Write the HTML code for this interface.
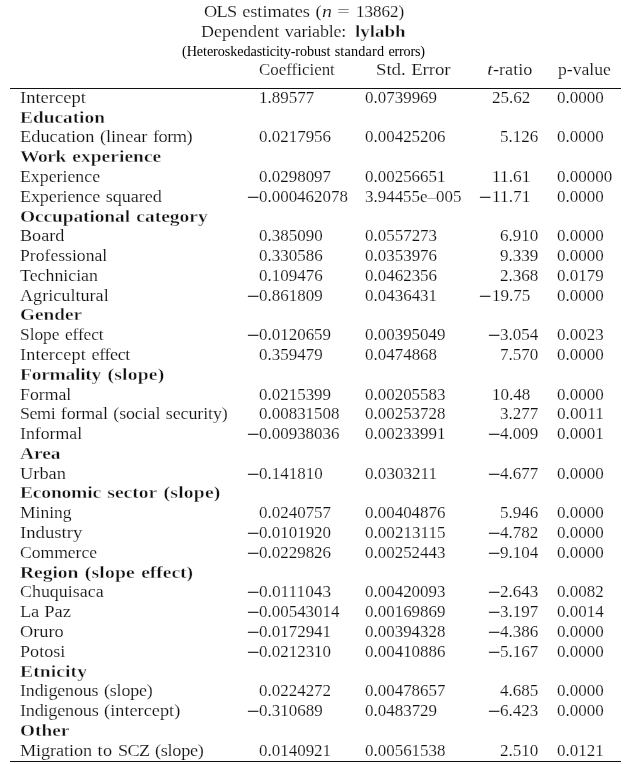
<!DOCTYPE html>
<html lang="en"><head><meta charset="utf-8">
<title>OLS estimates</title>
<style>
html,body{margin:0;padding:0;background:#fff;}
body{width:625px;height:764px;position:relative;overflow:hidden;
 font-family:"Liberation Serif",serif;color:#111;}
.t{position:absolute;white-space:pre;margin:0;padding:0;transform-origin:0 50%;-webkit-text-stroke:0.15px #fff;}
#page{position:absolute;left:0;top:0;width:625px;height:764px;will-change:transform;}
.b{font-weight:bold;color:#111;-webkit-text-stroke:0.36px #fff;}
.i{font-style:italic;}
.s{color:#000;-webkit-text-stroke:0;}
.w{display:inline-block;}
.m{text-align:center;}
.m>span{display:inline-block;color:#000;-webkit-text-stroke:0;transform:translate(0.5px,0.4px) scale(1.36,1.25);}
.rule{position:absolute;left:10.2px;width:610.6px;height:1px;background:#111;}
</style></head><body><div id="page">
<div class="rule" style="top:88px"></div>
<div class="rule" style="top:761px"></div>
<div class="t" style="left:19.80px;top:87px;font-size:17.5px;line-height:20px;height:20px;transform:scaleX(1.0600);">Intercept</div>
<div class="t" style="left:259.30px;top:88px;font-size:16.7px;line-height:19px;height:19px;transform:scaleX(1.0184);">1.89577</div>
<div class="t" style="left:365.40px;top:88px;font-size:16.7px;line-height:19px;height:19px;transform:scaleX(1.0163);">0.0739969</div>
<div class="t" style="left:491.65px;top:88px;font-size:16.7px;line-height:19px;height:19px;transform:scaleX(1.0222);">25.62</div>
<div class="t" style="left:556.50px;top:88px;font-size:16.7px;line-height:19px;height:19px;transform:scaleX(1.0199);">0.0000</div>
<div class="t b" style="left:20.20px;top:107px;font-size:17.5px;line-height:20px;height:20px;transform:scaleX(1.1051);">Education</div>
<div class="t" style="left:19.80px;top:126px;font-size:17.5px;line-height:20px;height:20px;word-spacing:0.930px;transform:scaleX(1.0493);"><span class="w" style="width:70.96px;letter-spacing:0.001px">Education</span> <span class="w" style="width:45.14px;letter-spacing:-0.076px">(linear</span> <span class="w" style="width:38.51px;letter-spacing:-0.518px">form)</span></div>
<div class="t" style="left:259.30px;top:127px;font-size:16.7px;line-height:19px;height:19px;transform:scaleX(1.0163);">0.0217956</div>
<div class="t" style="left:365.40px;top:127px;font-size:16.7px;line-height:19px;height:19px;transform:scaleX(1.0156);">0.00425206</div>
<div class="t" style="left:500.07px;top:127px;font-size:16.7px;line-height:19px;height:19px;transform:scaleX(1.0222);">5.126</div>
<div class="t" style="left:556.50px;top:127px;font-size:16.7px;line-height:19px;height:19px;transform:scaleX(1.0199);">0.0000</div>
<div class="t b" style="left:20.20px;top:146px;font-size:17.5px;line-height:20px;height:20px;word-spacing:1.371px;transform:scaleX(1.1140);"><span class="w" style="width:41.21px;letter-spacing:-0.398px">Work</span> <span class="w" style="width:79.89px;letter-spacing:0.020px">experience</span></div>
<div class="t" style="left:19.80px;top:166px;font-size:17.5px;line-height:20px;height:20px;transform:scaleX(1.0173);">Experience</div>
<div class="t" style="left:259.30px;top:167px;font-size:16.7px;line-height:19px;height:19px;transform:scaleX(1.0163);">0.0298097</div>
<div class="t" style="left:365.40px;top:167px;font-size:16.7px;line-height:19px;height:19px;transform:scaleX(1.0156);">0.00256651</div>
<div class="t" style="left:491.65px;top:167px;font-size:16.7px;line-height:19px;height:19px;transform:scaleX(1.0391);">11.61</div>
<div class="t" style="left:556.50px;top:167px;font-size:16.7px;line-height:19px;height:19px;transform:scaleX(1.0184);">0.00000</div>
<div class="t" style="left:19.80px;top:186px;font-size:17.5px;line-height:20px;height:20px;word-spacing:1.018px;transform:scaleX(1.0320);"><span class="w" style="width:77.58px;letter-spacing:-0.112px">Experience</span> <span class="w" style="width:54.52px;letter-spacing:0.012px">squared</span></div>
<div class="t m" style="left:246.19px;top:187px;font-size:16.7px;line-height:19px;height:19px;width:13.11px;"><span>−</span></div>
<div class="t" style="left:259.30px;top:187px;font-size:16.7px;line-height:19px;height:19px;transform:scaleX(1.0151);">0.000462078</div>
<div class="t" style="left:365.40px;top:187px;font-size:16.7px;line-height:19px;height:19px;transform:scaleX(1.0146);">3.94455e–005</div>
<div class="t m" style="left:478.54px;top:187px;font-size:16.7px;line-height:19px;height:19px;width:13.11px;"><span>−</span></div>
<div class="t" style="left:491.65px;top:187px;font-size:16.7px;line-height:19px;height:19px;transform:scaleX(1.0391);">11.71</div>
<div class="t" style="left:556.50px;top:187px;font-size:16.7px;line-height:19px;height:19px;transform:scaleX(1.0199);">0.0000</div>
<div class="t b" style="left:20.20px;top:206px;font-size:17.5px;line-height:20px;height:20px;word-spacing:1.376px;transform:scaleX(1.1130);"><span class="w" style="width:98.76px;letter-spacing:-0.116px">Occupational</span> <span class="w" style="width:64.14px;letter-spacing:0.001px">category</span></div>
<div class="t" style="left:19.80px;top:225px;font-size:17.5px;line-height:20px;height:20px;transform:scaleX(1.0366);">Board</div>
<div class="t" style="left:259.30px;top:226px;font-size:16.7px;line-height:19px;height:19px;transform:scaleX(1.0172);">0.385090</div>
<div class="t" style="left:365.40px;top:226px;font-size:16.7px;line-height:19px;height:19px;transform:scaleX(1.0163);">0.0557273</div>
<div class="t" style="left:500.07px;top:226px;font-size:16.7px;line-height:19px;height:19px;transform:scaleX(1.0222);">6.910</div>
<div class="t" style="left:556.50px;top:226px;font-size:16.7px;line-height:19px;height:19px;transform:scaleX(1.0199);">0.0000</div>
<div class="t" style="left:19.80px;top:245px;font-size:17.5px;line-height:20px;height:20px;transform:scaleX(1.0079);">Professional</div>
<div class="t" style="left:259.30px;top:246px;font-size:16.7px;line-height:19px;height:19px;transform:scaleX(1.0172);">0.330586</div>
<div class="t" style="left:365.40px;top:246px;font-size:16.7px;line-height:19px;height:19px;transform:scaleX(1.0163);">0.0353976</div>
<div class="t" style="left:500.07px;top:246px;font-size:16.7px;line-height:19px;height:19px;transform:scaleX(1.0222);">9.339</div>
<div class="t" style="left:556.50px;top:246px;font-size:16.7px;line-height:19px;height:19px;transform:scaleX(1.0199);">0.0000</div>
<div class="t" style="left:19.80px;top:265px;font-size:17.5px;line-height:20px;height:20px;transform:scaleX(1.0185);">Technician</div>
<div class="t" style="left:259.30px;top:266px;font-size:16.7px;line-height:19px;height:19px;transform:scaleX(1.0172);">0.109476</div>
<div class="t" style="left:365.40px;top:266px;font-size:16.7px;line-height:19px;height:19px;transform:scaleX(1.0163);">0.0462356</div>
<div class="t" style="left:500.07px;top:266px;font-size:16.7px;line-height:19px;height:19px;transform:scaleX(1.0222);">2.368</div>
<div class="t" style="left:556.50px;top:266px;font-size:16.7px;line-height:19px;height:19px;transform:scaleX(1.0199);">0.0179</div>
<div class="t" style="left:19.80px;top:285px;font-size:17.5px;line-height:20px;height:20px;transform:scaleX(1.0370);">Agricultural</div>
<div class="t m" style="left:246.19px;top:286px;font-size:16.7px;line-height:19px;height:19px;width:13.11px;"><span>−</span></div>
<div class="t" style="left:259.30px;top:286px;font-size:16.7px;line-height:19px;height:19px;transform:scaleX(1.0172);">0.861809</div>
<div class="t" style="left:365.40px;top:286px;font-size:16.7px;line-height:19px;height:19px;transform:scaleX(1.0163);">0.0436431</div>
<div class="t m" style="left:478.54px;top:286px;font-size:16.7px;line-height:19px;height:19px;width:13.11px;"><span>−</span></div>
<div class="t" style="left:491.65px;top:286px;font-size:16.7px;line-height:19px;height:19px;transform:scaleX(1.0222);">19.75</div>
<div class="t" style="left:556.50px;top:286px;font-size:16.7px;line-height:19px;height:19px;transform:scaleX(1.0199);">0.0000</div>
<div class="t b" style="left:20.20px;top:304px;font-size:17.5px;line-height:20px;height:20px;transform:scaleX(1.0987);">Gender</div>
<div class="t" style="left:19.80px;top:324px;font-size:17.5px;line-height:20px;height:20px;word-spacing:1.208px;transform:scaleX(0.9970);"><span class="w" style="width:39.55px;letter-spacing:-0.065px">Slope</span> <span class="w" style="width:38.62px;letter-spacing:-0.150px">effect</span></div>
<div class="t m" style="left:246.19px;top:325px;font-size:16.7px;line-height:19px;height:19px;width:13.11px;"><span>−</span></div>
<div class="t" style="left:259.30px;top:325px;font-size:16.7px;line-height:19px;height:19px;transform:scaleX(1.0163);">0.0120659</div>
<div class="t" style="left:365.40px;top:325px;font-size:16.7px;line-height:19px;height:19px;transform:scaleX(1.0156);">0.00395049</div>
<div class="t m" style="left:486.97px;top:325px;font-size:16.7px;line-height:19px;height:19px;width:13.11px;"><span>−</span></div>
<div class="t" style="left:500.07px;top:325px;font-size:16.7px;line-height:19px;height:19px;transform:scaleX(1.0222);">3.054</div>
<div class="t" style="left:556.50px;top:325px;font-size:16.7px;line-height:19px;height:19px;transform:scaleX(1.0199);">0.0023</div>
<div class="t" style="left:19.80px;top:344px;font-size:17.5px;line-height:20px;height:20px;word-spacing:0.993px;transform:scaleX(1.0370);"><span class="w" style="width:63.57px;letter-spacing:0.153px">Intercept</span> <span class="w" style="width:37.13px;letter-spacing:-0.398px">effect</span></div>
<div class="t" style="left:259.30px;top:345px;font-size:16.7px;line-height:19px;height:19px;transform:scaleX(1.0172);">0.359479</div>
<div class="t" style="left:365.40px;top:345px;font-size:16.7px;line-height:19px;height:19px;transform:scaleX(1.0163);">0.0474868</div>
<div class="t" style="left:500.07px;top:345px;font-size:16.7px;line-height:19px;height:19px;transform:scaleX(1.0222);">7.570</div>
<div class="t" style="left:556.50px;top:345px;font-size:16.7px;line-height:19px;height:19px;transform:scaleX(1.0199);">0.0000</div>
<div class="t b" style="left:20.20px;top:364px;font-size:17.5px;line-height:20px;height:20px;word-spacing:1.340px;transform:scaleX(1.1200);"><span class="w" style="width:72.39px;letter-spacing:-0.273px">Formality</span> <span class="w" style="width:51.30px;letter-spacing:0.182px">(slope)</span></div>
<div class="t" style="left:19.80px;top:384px;font-size:17.5px;line-height:20px;height:20px;transform:scaleX(1.0147);">Formal</div>
<div class="t" style="left:259.30px;top:385px;font-size:16.7px;line-height:19px;height:19px;transform:scaleX(1.0163);">0.0215399</div>
<div class="t" style="left:365.40px;top:385px;font-size:16.7px;line-height:19px;height:19px;transform:scaleX(1.0156);">0.00205583</div>
<div class="t" style="left:491.65px;top:385px;font-size:16.7px;line-height:19px;height:19px;transform:scaleX(1.0222);">10.48</div>
<div class="t" style="left:556.50px;top:385px;font-size:16.7px;line-height:19px;height:19px;transform:scaleX(1.0199);">0.0000</div>
<div class="t" style="left:19.80px;top:403px;font-size:17.5px;line-height:20px;height:20px;word-spacing:1.047px;transform:scaleX(1.0265);"><span class="w" style="width:34.34px;letter-spacing:-0.410px">Semi</span> <span class="w" style="width:45.69px;letter-spacing:-0.161px">formal</span> <span class="w" style="width:45.73px;letter-spacing:-0.132px">(social</span> <span class="w" style="width:61.59px;letter-spacing:-0.101px">security)</span></div>
<div class="t" style="left:259.30px;top:404px;font-size:16.7px;line-height:19px;height:19px;transform:scaleX(1.0156);">0.00831508</div>
<div class="t" style="left:365.40px;top:404px;font-size:16.7px;line-height:19px;height:19px;transform:scaleX(1.0156);">0.00253728</div>
<div class="t" style="left:500.07px;top:404px;font-size:16.7px;line-height:19px;height:19px;transform:scaleX(1.0222);">3.277</div>
<div class="t" style="left:556.50px;top:404px;font-size:16.7px;line-height:19px;height:19px;transform:scaleX(1.0337);">0.0011</div>
<div class="t" style="left:19.80px;top:423px;font-size:17.5px;line-height:20px;height:20px;transform:scaleX(1.0159);">Informal</div>
<div class="t m" style="left:246.19px;top:424px;font-size:16.7px;line-height:19px;height:19px;width:13.11px;"><span>−</span></div>
<div class="t" style="left:259.30px;top:424px;font-size:16.7px;line-height:19px;height:19px;transform:scaleX(1.0156);">0.00938036</div>
<div class="t" style="left:365.40px;top:424px;font-size:16.7px;line-height:19px;height:19px;transform:scaleX(1.0156);">0.00233991</div>
<div class="t m" style="left:486.97px;top:424px;font-size:16.7px;line-height:19px;height:19px;width:13.11px;"><span>−</span></div>
<div class="t" style="left:500.07px;top:424px;font-size:16.7px;line-height:19px;height:19px;transform:scaleX(1.0222);">4.009</div>
<div class="t" style="left:556.50px;top:424px;font-size:16.7px;line-height:19px;height:19px;transform:scaleX(1.0199);">0.0001</div>
<div class="t b" style="left:20.20px;top:443px;font-size:17.5px;line-height:20px;height:20px;transform:scaleX(1.1081);">Area</div>
<div class="t" style="left:19.80px;top:463px;font-size:17.5px;line-height:20px;height:20px;transform:scaleX(1.0512);">Urban</div>
<div class="t m" style="left:246.19px;top:464px;font-size:16.7px;line-height:19px;height:19px;width:13.11px;"><span>−</span></div>
<div class="t" style="left:259.30px;top:464px;font-size:16.7px;line-height:19px;height:19px;transform:scaleX(1.0172);">0.141810</div>
<div class="t" style="left:365.40px;top:464px;font-size:16.7px;line-height:19px;height:19px;transform:scaleX(1.0252);">0.0303211</div>
<div class="t m" style="left:486.97px;top:464px;font-size:16.7px;line-height:19px;height:19px;width:13.11px;"><span>−</span></div>
<div class="t" style="left:500.07px;top:464px;font-size:16.7px;line-height:19px;height:19px;transform:scaleX(1.0222);">4.677</div>
<div class="t" style="left:556.50px;top:464px;font-size:16.7px;line-height:19px;height:19px;transform:scaleX(1.0199);">0.0000</div>
<div class="t b" style="left:20.20px;top:482px;font-size:17.5px;line-height:20px;height:20px;word-spacing:1.340px;transform:scaleX(1.1200);"><span class="w" style="width:72.23px;letter-spacing:-0.207px">Economic</span> <span class="w" style="width:44.55px;letter-spacing:-0.026px">sector</span> <span class="w" style="width:51.30px;letter-spacing:0.182px">(slope)</span></div>
<div class="t" style="left:19.80px;top:502px;font-size:17.5px;line-height:20px;height:20px;transform:scaleX(0.9990);">Mining</div>
<div class="t" style="left:259.30px;top:503px;font-size:16.7px;line-height:19px;height:19px;transform:scaleX(1.0163);">0.0240757</div>
<div class="t" style="left:365.40px;top:503px;font-size:16.7px;line-height:19px;height:19px;transform:scaleX(1.0156);">0.00404876</div>
<div class="t" style="left:500.07px;top:503px;font-size:16.7px;line-height:19px;height:19px;transform:scaleX(1.0222);">5.946</div>
<div class="t" style="left:556.50px;top:503px;font-size:16.7px;line-height:19px;height:19px;transform:scaleX(1.0199);">0.0000</div>
<div class="t" style="left:19.80px;top:522px;font-size:17.5px;line-height:20px;height:20px;transform:scaleX(1.0681);">Industry</div>
<div class="t m" style="left:246.19px;top:523px;font-size:16.7px;line-height:19px;height:19px;width:13.11px;"><span>−</span></div>
<div class="t" style="left:259.30px;top:523px;font-size:16.7px;line-height:19px;height:19px;transform:scaleX(1.0163);">0.0101920</div>
<div class="t" style="left:365.40px;top:523px;font-size:16.7px;line-height:19px;height:19px;transform:scaleX(1.0235);">0.00213115</div>
<div class="t m" style="left:486.97px;top:523px;font-size:16.7px;line-height:19px;height:19px;width:13.11px;"><span>−</span></div>
<div class="t" style="left:500.07px;top:523px;font-size:16.7px;line-height:19px;height:19px;transform:scaleX(1.0222);">4.782</div>
<div class="t" style="left:556.50px;top:523px;font-size:16.7px;line-height:19px;height:19px;transform:scaleX(1.0199);">0.0000</div>
<div class="t" style="left:19.80px;top:542px;font-size:17.5px;line-height:20px;height:20px;transform:scaleX(1.0035);">Commerce</div>
<div class="t m" style="left:246.19px;top:543px;font-size:16.7px;line-height:19px;height:19px;width:13.11px;"><span>−</span></div>
<div class="t" style="left:259.30px;top:543px;font-size:16.7px;line-height:19px;height:19px;transform:scaleX(1.0163);">0.0229826</div>
<div class="t" style="left:365.40px;top:543px;font-size:16.7px;line-height:19px;height:19px;transform:scaleX(1.0156);">0.00252443</div>
<div class="t m" style="left:486.97px;top:543px;font-size:16.7px;line-height:19px;height:19px;width:13.11px;"><span>−</span></div>
<div class="t" style="left:500.07px;top:543px;font-size:16.7px;line-height:19px;height:19px;transform:scaleX(1.0222);">9.104</div>
<div class="t" style="left:556.50px;top:543px;font-size:16.7px;line-height:19px;height:19px;transform:scaleX(1.0199);">0.0000</div>
<div class="t b" style="left:20.20px;top:562px;font-size:17.5px;line-height:20px;height:20px;word-spacing:1.340px;transform:scaleX(1.1200);"><span class="w" style="width:52.16px;letter-spacing:-0.057px">Region</span> <span class="w" style="width:44.63px;letter-spacing:0.147px">(slope</span> <span class="w" style="width:46.68px;letter-spacing:-0.056px">effect)</span></div>
<div class="t" style="left:19.80px;top:581px;font-size:17.5px;line-height:20px;height:20px;transform:scaleX(1.0237);">Chuquisaca</div>
<div class="t m" style="left:246.19px;top:582px;font-size:16.7px;line-height:19px;height:19px;width:13.11px;"><span>−</span></div>
<div class="t" style="left:259.30px;top:582px;font-size:16.7px;line-height:19px;height:19px;transform:scaleX(1.0343);">0.0111043</div>
<div class="t" style="left:365.40px;top:582px;font-size:16.7px;line-height:19px;height:19px;transform:scaleX(1.0156);">0.00420093</div>
<div class="t m" style="left:486.97px;top:582px;font-size:16.7px;line-height:19px;height:19px;width:13.11px;"><span>−</span></div>
<div class="t" style="left:500.07px;top:582px;font-size:16.7px;line-height:19px;height:19px;transform:scaleX(1.0222);">2.643</div>
<div class="t" style="left:556.50px;top:582px;font-size:16.7px;line-height:19px;height:19px;transform:scaleX(1.0199);">0.0082</div>
<div class="t" style="left:19.80px;top:601px;font-size:17.5px;line-height:20px;height:20px;word-spacing:0.873px;transform:scaleX(1.0606);"><span class="w" style="width:17.71px;letter-spacing:-0.378px">La</span> <span class="w" style="width:25.15px;letter-spacing:-0.044px">Paz</span></div>
<div class="t m" style="left:246.19px;top:602px;font-size:16.7px;line-height:19px;height:19px;width:13.11px;"><span>−</span></div>
<div class="t" style="left:259.30px;top:602px;font-size:16.7px;line-height:19px;height:19px;transform:scaleX(1.0156);">0.00543014</div>
<div class="t" style="left:365.40px;top:602px;font-size:16.7px;line-height:19px;height:19px;transform:scaleX(1.0156);">0.00169869</div>
<div class="t m" style="left:486.97px;top:602px;font-size:16.7px;line-height:19px;height:19px;width:13.11px;"><span>−</span></div>
<div class="t" style="left:500.07px;top:602px;font-size:16.7px;line-height:19px;height:19px;transform:scaleX(1.0222);">3.197</div>
<div class="t" style="left:556.50px;top:602px;font-size:16.7px;line-height:19px;height:19px;transform:scaleX(1.0199);">0.0014</div>
<div class="t" style="left:19.80px;top:621px;font-size:17.5px;line-height:20px;height:20px;transform:scaleX(1.0455);">Oruro</div>
<div class="t m" style="left:246.19px;top:622px;font-size:16.7px;line-height:19px;height:19px;width:13.11px;"><span>−</span></div>
<div class="t" style="left:259.30px;top:622px;font-size:16.7px;line-height:19px;height:19px;transform:scaleX(1.0163);">0.0172941</div>
<div class="t" style="left:365.40px;top:622px;font-size:16.7px;line-height:19px;height:19px;transform:scaleX(1.0156);">0.00394328</div>
<div class="t m" style="left:486.97px;top:622px;font-size:16.7px;line-height:19px;height:19px;width:13.11px;"><span>−</span></div>
<div class="t" style="left:500.07px;top:622px;font-size:16.7px;line-height:19px;height:19px;transform:scaleX(1.0222);">4.386</div>
<div class="t" style="left:556.50px;top:622px;font-size:16.7px;line-height:19px;height:19px;transform:scaleX(1.0199);">0.0000</div>
<div class="t" style="left:19.80px;top:641px;font-size:17.5px;line-height:20px;height:20px;transform:scaleX(1.0352);">Potosi</div>
<div class="t m" style="left:246.19px;top:642px;font-size:16.7px;line-height:19px;height:19px;width:13.11px;"><span>−</span></div>
<div class="t" style="left:259.30px;top:642px;font-size:16.7px;line-height:19px;height:19px;transform:scaleX(1.0163);">0.0212310</div>
<div class="t" style="left:365.40px;top:642px;font-size:16.7px;line-height:19px;height:19px;transform:scaleX(1.0156);">0.00410886</div>
<div class="t m" style="left:486.97px;top:642px;font-size:16.7px;line-height:19px;height:19px;width:13.11px;"><span>−</span></div>
<div class="t" style="left:500.07px;top:642px;font-size:16.7px;line-height:19px;height:19px;transform:scaleX(1.0222);">5.167</div>
<div class="t" style="left:556.50px;top:642px;font-size:16.7px;line-height:19px;height:19px;transform:scaleX(1.0199);">0.0000</div>
<div class="t b" style="left:20.20px;top:661px;font-size:17.5px;line-height:20px;height:20px;letter-spacing:0.067px;transform:scaleX(1.1200);">Etnicity</div>
<div class="t" style="left:19.80px;top:680px;font-size:17.5px;line-height:20px;height:20px;word-spacing:1.065px;transform:scaleX(1.0232);"><span class="w" style="width:76.71px;letter-spacing:-0.107px">Indigenous</span> <span class="w" style="width:48.60px;letter-spacing:-0.183px">(slope)</span></div>
<div class="t" style="left:259.30px;top:681px;font-size:16.7px;line-height:19px;height:19px;transform:scaleX(1.0163);">0.0224272</div>
<div class="t" style="left:365.40px;top:681px;font-size:16.7px;line-height:19px;height:19px;transform:scaleX(1.0156);">0.00478657</div>
<div class="t" style="left:500.07px;top:681px;font-size:16.7px;line-height:19px;height:19px;transform:scaleX(1.0222);">4.685</div>
<div class="t" style="left:556.50px;top:681px;font-size:16.7px;line-height:19px;height:19px;transform:scaleX(1.0199);">0.0000</div>
<div class="t" style="left:19.80px;top:700px;font-size:17.5px;line-height:20px;height:20px;word-spacing:0.965px;transform:scaleX(1.0423);"><span class="w" style="width:75.31px;letter-spacing:-0.248px">Indigenous</span> <span class="w" style="width:74.37px;letter-spacing:0.023px">(intercept)</span></div>
<div class="t m" style="left:246.19px;top:701px;font-size:16.7px;line-height:19px;height:19px;width:13.11px;"><span>−</span></div>
<div class="t" style="left:259.30px;top:701px;font-size:16.7px;line-height:19px;height:19px;transform:scaleX(1.0172);">0.310689</div>
<div class="t" style="left:365.40px;top:701px;font-size:16.7px;line-height:19px;height:19px;transform:scaleX(1.0163);">0.0483729</div>
<div class="t m" style="left:486.97px;top:701px;font-size:16.7px;line-height:19px;height:19px;width:13.11px;"><span>−</span></div>
<div class="t" style="left:500.07px;top:701px;font-size:16.7px;line-height:19px;height:19px;transform:scaleX(1.0222);">6.423</div>
<div class="t" style="left:556.50px;top:701px;font-size:16.7px;line-height:19px;height:19px;transform:scaleX(1.0199);">0.0000</div>
<div class="t b" style="left:20.20px;top:720px;font-size:17.5px;line-height:20px;height:20px;transform:scaleX(1.1019);">Other</div>
<div class="t" style="left:19.80px;top:740px;font-size:17.5px;line-height:20px;height:20px;word-spacing:0.970px;transform:scaleX(1.0414);"><span class="w" style="width:69.09px;letter-spacing:-0.101px">Migration</span> <span class="w" style="width:14.25px;letter-spacing:0.315px">to</span> <span class="w" style="width:30.29px;letter-spacing:-0.606px">SCZ</span> <span class="w" style="width:47.75px;letter-spacing:-0.301px">(slope)</span></div>
<div class="t" style="left:259.30px;top:741px;font-size:16.7px;line-height:19px;height:19px;transform:scaleX(1.0163);">0.0140921</div>
<div class="t" style="left:365.40px;top:741px;font-size:16.7px;line-height:19px;height:19px;transform:scaleX(1.0156);">0.00561538</div>
<div class="t" style="left:500.07px;top:741px;font-size:16.7px;line-height:19px;height:19px;transform:scaleX(1.0222);">2.510</div>
<div class="t" style="left:556.50px;top:741px;font-size:16.7px;line-height:19px;height:19px;transform:scaleX(1.0199);">0.0121</div>
<div class="t" style="left:259.20px;top:59px;font-size:17.5px;line-height:20px;height:20px;transform:scaleX(0.9668);">Coefficient</div>
<div class="t" style="left:375.60px;top:59px;font-size:17.5px;line-height:20px;height:20px;word-spacing:0.776px;transform:scaleX(1.0778);"><span class="w" style="width:27.48px;letter-spacing:-0.065px">Std.</span> <span class="w" style="width:36.40px;letter-spacing:-0.107px">Error</span></div>
<div class="t i" style="left:486.60px;top:59px;font-size:17.5px;line-height:20px;height:20px;transform:scaleX(1.2370);">t</div>
<div class="t" style="left:492.63px;top:59px;font-size:17.5px;line-height:20px;height:20px;transform:scaleX(1.0386);">-ratio</div>
<div class="t" style="left:557.90px;top:59px;font-size:17.5px;line-height:20px;height:20px;transform:scaleX(1.0079);">p-value</div>
<div class="t" style="left:204.00px;top:1px;font-size:17.5px;line-height:20px;height:20px;word-spacing:0.933px;transform:scaleX(1.0464);"><span class="w" style="width:31.19px;letter-spacing:-0.624px">OLS</span> <span class="w" style="width:64.76px;letter-spacing:-0.040px">estimates</span> <span class="w" style="width:6.19px;letter-spacing:0.366px">(</span></div>
<div class="t i" style="left:322.00px;top:1px;font-size:17.5px;line-height:20px;height:20px;transform:scaleX(1.1455);">n</div>
<div class="t" style="left:337.30px;top:1px;font-size:17.5px;line-height:20px;height:20px;transform:scaleX(1.3154);">=</div>
<div class="t" style="left:355.90px;top:1px;font-size:17.5px;line-height:20px;height:20px;transform:scaleX(0.9742);">13862)</div>
<div class="t" style="left:201.40px;top:21px;font-size:17.5px;line-height:20px;height:20px;word-spacing:1.018px;transform:scaleX(1.0268);"><span class="w" style="width:76.19px;letter-spacing:0.042px">Dependent</span> <span class="w" style="width:59.83px;letter-spacing:-0.155px">variable:</span></div>
<div class="t b" style="left:355.40px;top:21px;font-size:17.5px;line-height:20px;height:20px;transform:scaleX(1.0834);">lylabh</div>
<div class="t s" style="left:182.00px;top:44px;font-size:14.0px;line-height:15px;height:15px;word-spacing:0.736px;transform:scaleX(1.0156);"><span class="w" style="width:146.07px;letter-spacing:-0.094px">(Heteroskedasticity-robust</span> <span class="w" style="width:48.82px;letter-spacing:0.173px">standard</span> <span class="w" style="width:36.89px;letter-spacing:-0.243px">errors)</span></div>
</div></body></html>
